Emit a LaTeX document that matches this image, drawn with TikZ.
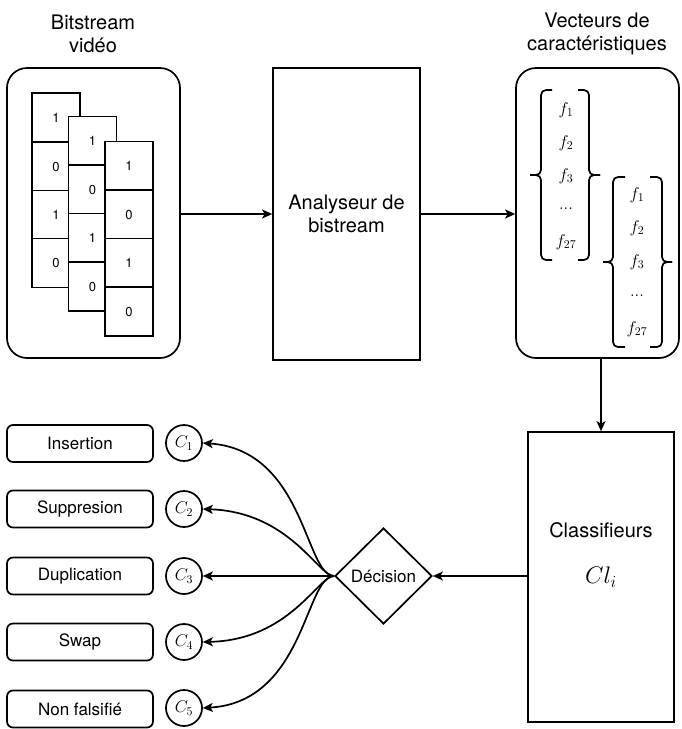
\RequirePackage{fix-cm}
\documentclass[tikz,border=0pt]{standalone}
\usepackage[no-math]{fontspec}
\setmainfont{TeX Gyre Heros}
\usetikzlibrary{arrows.meta,shapes.geometric}
\begin{document}
\begin{tikzpicture}[x=1pt,y=-1pt,line width=1.7pt,
  >={Stealth[length=10pt,width=9pt,inset=2.5pt]},
  bigf/.style={font=\fontsize{20}{23}\selectfont},
  midf/.style={font=\fontsize{17}{20}\selectfont},
  bitf/.style={font=\fontsize{13}{15}\selectfont},
  mathf/.style={font=\fontsize{17}{20}\selectfont},
  rbox/.style={draw,rounded corners=20pt,minimum width=173pt,minimum height=290pt,inner sep=0pt},
  pbox/.style={draw,minimum width=147pt,minimum height=292pt,inner sep=0pt},
  cell/.style={draw,fill=white,minimum width=48pt,minimum height=49pt,inner sep=0pt,bitf},
  lab/.style={draw,rounded corners=6pt,minimum width=146pt,minimum height=37pt,inner sep=0pt,midf},
  cls/.style={draw,circle,minimum size=36pt,inner sep=0pt,mathf},
  brace/.style={rounded corners=5pt},
  item/.style={mathf,inner sep=1pt}
]
\useasboundingbox (0,0) rectangle (681,729);

% Bitstream
\node[bigf,align=center] (t1) at (93,34) {Bitstream\\vidéo};
\node[rbox] (bs) at (93.5,213) {};
\node[cell] (b11) at (56,117.5) {1};
\node[cell] (b12) at (56,166.5) {0};
\node[cell] (b13) at (56,215) {1};
\node[cell] (b14) at (56,263) {0};
\node[cell] (b21) at (92.5,141) {1};
\node[cell] (b22) at (92.5,189.5) {0};
\node[cell] (b23) at (92.5,238) {1};
\node[cell] (b24) at (92.5,286.5) {0};
\node[cell] (b31) at (129,166) {1};
\node[cell] (b32) at (129,214.5) {0};
\node[cell] (b33) at (129,263) {1};
\node[cell] (b34) at (129,311.5) {0};

% Analyseur
\node[pbox,bigf,align=center] (ana) at (346.5,214) {Analyseur de\\bistream};

% Vecteurs
\node[bigf,align=center] (t2) at (597,34) {Vecteurs de\\caractéristiques};
\node[rbox,minimum width=163pt] (vec) at (597.5,213) {};

\draw[brace] (552,90) -- (541,90) -- (541,175) -- (530,175);
\draw[brace] (552,260) -- (541,260) -- (541,175) -- (530,175);
\draw[brace] (578,90) -- (589,90) -- (589,175) -- (600,175);
\draw[brace] (578,260) -- (589,260) -- (589,175) -- (600,175);
\node[item] (fa1) at (566,110) {$f_1$};
\node[item] (fa2) at (566,143) {$f_2$};
\node[item] (fa3) at (566,176) {$f_3$};
\node[item] (fa4) at (566,209) {$...$};
\node[item] (fa5) at (566,242) {$f_{27}$};

\draw[brace] (625,177) -- (613,177) -- (613,262) -- (603,262);
\draw[brace] (625,347) -- (613,347) -- (613,262) -- (603,262);
\draw[brace] (650,177) -- (662,177) -- (662,262) -- (672,262);
\draw[brace] (650,347) -- (662,347) -- (662,262) -- (672,262);
\node[item] (fb1) at (637,195) {$f_1$};
\node[item] (fb2) at (637,228) {$f_2$};
\node[item] (fb3) at (637,262) {$f_3$};
\node[item] (fb4) at (637,296) {$...$};
\node[item] (fb5) at (637,329) {$f_{27}$};

% Classifieurs
\node[pbox,minimum width=146pt,minimum height=290pt] (clsb) at (601,577) {};
\node[bigf] (clsT) at (601,530) {Classifieurs};
\node[font=\fontsize{24}{28}\selectfont] (clsM) at (601,577) {$Cl_i$};

% Decision
\node[draw,diamond,minimum width=97pt,minimum height=96pt,inner sep=0pt,midf] (dec) at (383.5,576) {Décision};

% Classes
\node[cls] (c1) at (184,443) {$C_1$};
\node[cls] (c2) at (184,509) {$C_2$};
\node[cls] (c3) at (184,576) {$C_3$};
\node[cls] (c4) at (184,642) {$C_4$};
\node[cls] (c5) at (184,708) {$C_5$};
\node[lab] (l1) at (80,443.5) {Insertion};
\node[lab] (l2) at (80,509) {Suppresion};
\node[lab] (l3) at (80,576) {Duplication};
\node[lab] (l4) at (80,642) {Swap};
\node[lab] (l5) at (80,709) {Non falsifié};

% Connectors
\draw[->] (bs.east |- ana.west) -- (ana.west);
\draw[->] (ana.east) -- (ana.east -| vec.west);
\draw[->] (vec.south -| clsb.north) -- (clsb.north);
\draw[->] (clsb.west |- dec.east) -- (dec.east);
\draw[->] (dec.west) .. controls (305,576) and (305,450) .. (c1.east);
\draw[->] (dec.west) .. controls (318,576) and (290,512) .. (c2.east);
\draw[->] (dec.west) -- (c3.east);
\draw[->] (dec.west) .. controls (318,576) and (290,640) .. (c4.east);
\draw[->] (dec.west) .. controls (305,576) and (305,702) .. (c5.east);
\end{tikzpicture}
\end{document}
